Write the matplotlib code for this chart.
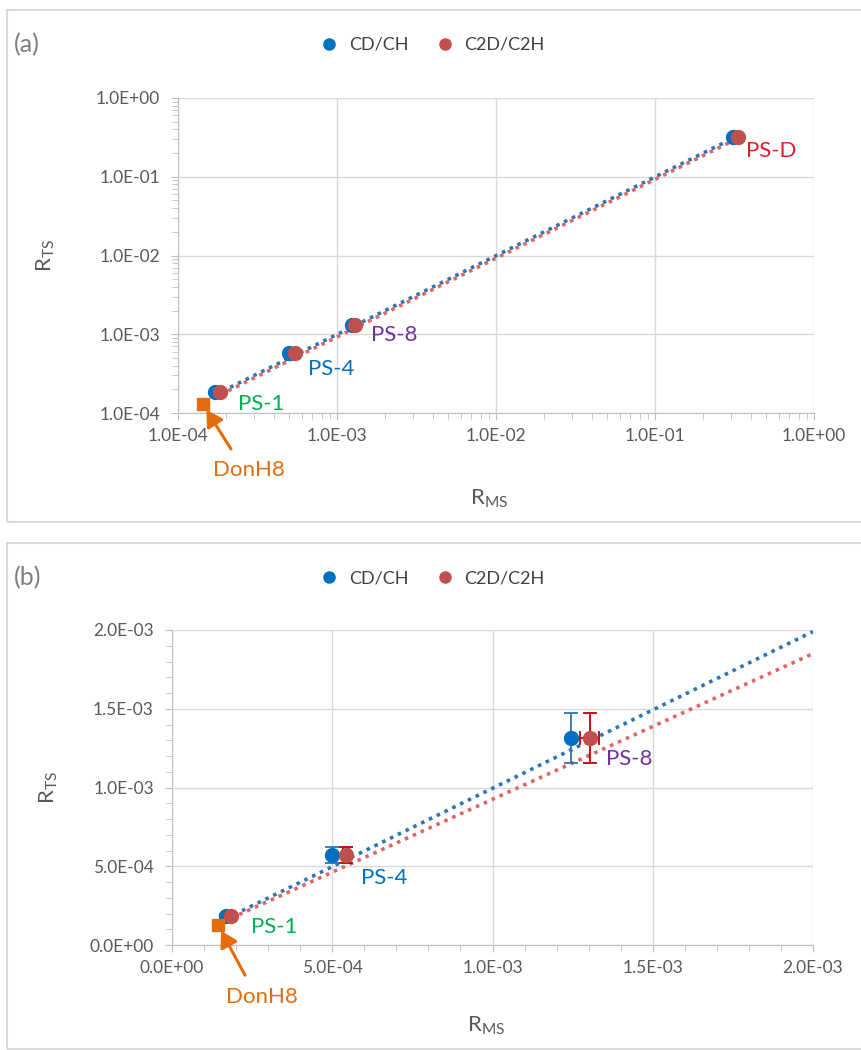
"""R_TS vs R_MS: (a) log-log, (b) linear with error bars."""

import matplotlib
matplotlib.use("Agg")
import matplotlib.pyplot as plt
import numpy as np
from matplotlib.lines import Line2D
from matplotlib.patches import Rectangle
from matplotlib.ticker import FuncFormatter, LogLocator, MultipleLocator, NullFormatter

plt.rcParams["font.family"] = ["Lato", "DejaVu Sans"]

# data
samples = ["PS-1", "PS-4", "PS-8", "PS-D"]
cd_ms = [1.70e-4, 5.00e-4, 1.244e-3, 0.31]
cd_ts = [1.85e-4, 5.70e-4, 1.314e-3, 0.32]
c2d_ms = [1.85e-4, 5.42e-4, 1.303e-3, 0.335]
c2d_ts = [1.85e-4, 5.70e-4, 1.314e-3, 0.32]
# error bars (panel b, first three samples)
cd_ts_err = [1.0e-5, 5.0e-5, 1.6e-4]
c2d_ts_err = [1.0e-5, 5.0e-5, 1.6e-4]
cd_ms_err = [0.0, 0.0, 0.0]
c2d_ms_err = [3e-6, 1.0e-5, 3.0e-5]
donh8_ms = [1.43e-4]
donh8_ts = [1.30e-4]
trend_slope = [0.995, 0.925]  # CD/CH, C2D/C2H (dotted trend lines)
legend_labels = ["CD/CH", "C2D/C2H"]

BLUE = "#0070C0"
RED = "#C0504D"
BLUE_LINE = "#2E75B6"
RED_LINE = "#E06666"
ORANGE = "#E46C0A"
label_colors = {"PS-1": "#00B050", "PS-4": "#0070C0", "PS-8": "#7030A0", "PS-D": "#E0202F"}
GRAY_TXT = "#595959"

W, H = 861, 1050


def fx(px):
    return px / W


def fy(py):
    return 1 - py / H


def sci(v, _pos):
    return f"{v:.1E}"


def style(ax):
    for s in ("top", "right"):
        ax.spines[s].set_visible(False)
    for s in ("left", "bottom"):
        ax.spines[s].set_color("#BFBFBF")
    ax.grid(True, which="major", color="#D9D9D9", lw=1)
    ax.set_axisbelow(True)
    ax.tick_params(which="both", direction="out", colors="#BFBFBF",
                   labelcolor=GRAY_TXT, labelsize=12.5)
    ax.tick_params(which="major", length=5)
    ax.tick_params(which="minor", length=4)
    ax.tick_params(axis="y", pad=8)
    ax.tick_params(axis="x", pad=6)
    ax.xaxis.set_major_formatter(FuncFormatter(sci))
    ax.yaxis.set_major_formatter(FuncFormatter(sci))


def labels(ax, offs, donh8_off):
    for i, name in enumerate(samples):
        if name not in offs:
            continue
        ax.annotate(name, (c2d_ms[i], c2d_ts[i]), textcoords="offset pixels",
                    xytext=offs[name], ha="left", va="center", fontsize=16,
                    color=label_colors[name])
    ax.annotate("DonH8", (donh8_ms[0], donh8_ts[0]), textcoords="offset pixels",
                xytext=donh8_off, ha="center", va="center", fontsize=16,
                color=ORANGE,
                arrowprops=dict(arrowstyle="-|>,head_length=0.6,head_width=0.35",
                                color=ORANGE, lw=2.2, relpos=(0.35, 1.0),
                                shrinkA=7, shrinkB=5))


def points(ax, n):
    ax.plot(cd_ms[:n], cd_ts[:n], "o", ms=10, color=BLUE, zorder=4)
    ax.plot(c2d_ms[:n], c2d_ts[:n], "o", ms=10, color=RED, zorder=5)
    ax.plot(donh8_ms, donh8_ts, "s", ms=9, color=ORANGE, zorder=6)


def legend(fig, ypx):
    handles = [Line2D([], [], ls="none", marker="o", ms=8, color=c) for c in (BLUE, RED)]
    fig.legend(handles, legend_labels, loc="center", bbox_to_anchor=(fx(428), fy(ypx)),
               ncol=2, frameon=False, fontsize=13, handletextpad=0.1,
               columnspacing=1.0, labelcolor="#404040")


fig = plt.figure(figsize=(W / 100, H / 100), dpi=100)

# panel frames
for top, bot in ((10, 522), (543, 1049)):
    fig.patches.append(Rectangle((fx(7), fy(bot)), fx(W + 20), fy(top) - fy(bot),
                                 transform=fig.transFigure, fill=False,
                                 edgecolor="#D9D9D9", lw=1.5))

dot = (0, (1, 1.4))

# ---- (a) log-log
ax1 = fig.add_axes([fx(178), fy(413), fx(814 - 178), fy(98) - fy(413)])
ax1.set_xscale("log")
ax1.set_yscale("log")
ax1.set_xlim(1e-4, 1)
ax1.set_ylim(1e-4, 1)
ax1.xaxis.set_major_locator(LogLocator(base=10, numticks=10))
ax1.yaxis.set_major_locator(LogLocator(base=10, numticks=10))
ax1.xaxis.set_minor_locator(LogLocator(base=10, subs=np.arange(2, 10), numticks=20))
ax1.yaxis.set_minor_locator(LogLocator(base=10, subs=np.arange(2, 10), numticks=20))
ax1.xaxis.set_minor_formatter(NullFormatter())
ax1.yaxis.set_minor_formatter(NullFormatter())
style(ax1)
for xs, k, c in ((cd_ms, trend_slope[0], BLUE_LINE), (c2d_ms, trend_slope[1], RED_LINE)):
    xx = np.array([xs[0], xs[-1]])
    ax1.plot(xx, k * xx, ls=dot, lw=2.6, color=c, zorder=3)
points(ax1, 4)
labels(ax1, {"PS-1": (18, -12), "PS-4": (13, -16), "PS-8": (16, -10), "PS-D": (8, -14)},
       (46, -66))
ax1.set_ylabel(r"R$_\mathregular{TS}$", fontsize=16, color=GRAY_TXT)
ax1.set_xlabel(r"R$_\mathregular{MS}$", fontsize=16, color=GRAY_TXT)
ax1.yaxis.set_label_coords(-0.19, 0.5)
ax1.xaxis.set_label_coords(0.49, -0.235)
fig.text(fx(14), fy(45), "(a)", fontsize=18, color="#7F7F7F", va="center")
legend(fig, 45)

# ---- (b) linear
ax2 = fig.add_axes([fx(172), fy(945), fx(813 - 172), fy(630) - fy(945)])
ax2.set_xlim(0, 2e-3)
ax2.set_ylim(0, 2e-3)
ax2.xaxis.set_major_locator(MultipleLocator(5e-4))
ax2.yaxis.set_major_locator(MultipleLocator(5e-4))
ax2.xaxis.set_minor_locator(MultipleLocator(1e-4))
ax2.yaxis.set_minor_locator(MultipleLocator(1e-4))
style(ax2)
for xs, k, c in ((cd_ms, trend_slope[0], BLUE_LINE), (c2d_ms, trend_slope[1], RED_LINE)):
    xx = np.array([xs[0], 2e-3])
    ax2.plot(xx, k * xx, ls=dot, lw=2.6, color=c, zorder=3)
ax2.errorbar(cd_ms[:3], cd_ts[:3], yerr=cd_ts_err, xerr=cd_ms_err, fmt="none",
             ecolor="#2E75B6", elinewidth=1.3, capsize=5, capthick=1.3, zorder=4)
ax2.errorbar(c2d_ms[:3], c2d_ts[:3], yerr=c2d_ts_err, xerr=c2d_ms_err, fmt="none",
             ecolor="#C00000", elinewidth=1.3, capsize=5, capthick=1.3, zorder=5)
points(ax2, 3)
labels(ax2, {"PS-1": (20, -11), "PS-4": (15, -23), "PS-8": (16, -21)}, (44, -72))
ax2.set_ylabel(r"R$_\mathregular{TS}$", fontsize=16, color=GRAY_TXT)
ax2.set_xlabel(r"R$_\mathregular{MS}$", fontsize=16, color=GRAY_TXT)
ax2.yaxis.set_label_coords(-0.175, 0.5)
ax2.xaxis.set_label_coords(0.49, -0.22)
fig.text(fx(14), fy(578), "(b)", fontsize=18, color="#7F7F7F", va="center")
legend(fig, 578)

fig.savefig("out.png", dpi=100)
